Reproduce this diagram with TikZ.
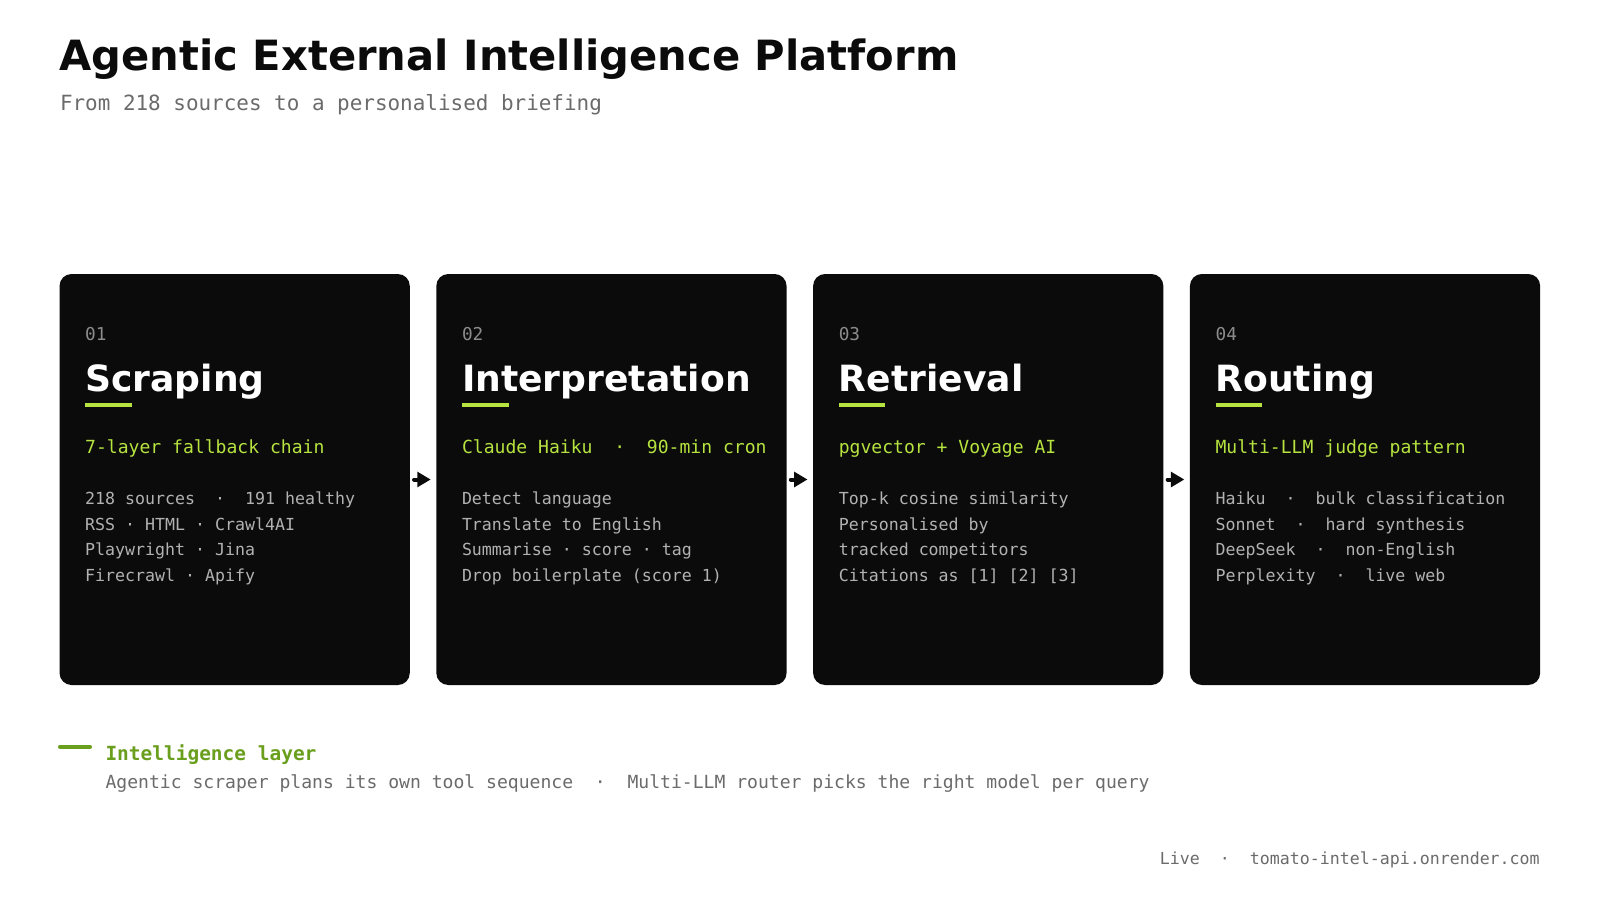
\documentclass[tikz,border=0pt]{standalone}
\usepackage{fontspec}
\setmainfont{DejaVu Sans}
\setmonofont{DejaVu Sans Mono}
\usetikzlibrary{arrows.meta}
\definecolor{cardbg}{HTML}{0B0B0B}
\definecolor{lime}{HTML}{B6E33F}
\definecolor{bodygrey}{HTML}{B2B2B2}
\definecolor{numgrey}{HTML}{8C8C8C}
\definecolor{footgreen}{HTML}{6A9F1E}
\definecolor{subgrey}{HTML}{6B6B6B}
\definecolor{ink}{HTML}{0B0B0B}
\newcommand{\fntMain}{\fontsize{31.25}{37}\selectfont\bfseries}
\newcommand{\fntSub}{\ttfamily\fontsize{15.7}{19}\selectfont}
\newcommand{\fntNum}{\ttfamily\fontsize{13.3}{16}\selectfont}
\newcommand{\fntHead}{\fontsize{27.1}{32}\selectfont\bfseries}
\newcommand{\fntTag}{\ttfamily\fontsize{13.55}{16}\selectfont}
\newcommand{\fntBody}{\ttfamily\fontsize{12.45}{15}\selectfont}
\newcommand{\fntLayer}{\ttfamily\fontsize{14.6}{17}\selectfont\bfseries}
\tikzset{
  txt/.style={anchor=base west, inner sep=0pt, outer sep=0pt},
  card/.style={fill=cardbg, draw=none, rounded corners=9pt, minimum width=262.7pt, minimum height=308.25pt, inner sep=0pt},
  numtxt/.style={txt, font=\fntNum, text=numgrey},
  headtxt/.style={txt, font=\fntHead, text=white},
  tagtxt/.style={txt, font=\fntTag, text=lime},
  bodytxt/.style={txt, font=\fntBody, text=bodygrey},
  uline/.style={draw=lime, line width=3pt},
  flow/.style={draw=ink, line width=3pt, line cap=round, -{Triangle[length=10pt,width=11pt]}},
}
\begin{document}
\begin{tikzpicture}[x=0.75pt,y=-0.75pt]
\useasboundingbox (0,0) rectangle (1600,900);
\fill[white] (0,0) rectangle (1600,900);

% header
\node[txt, font=\fntMain, text=ink] (title) at (59.5,70) {Agentic External Intelligence Platform};
\node[txt, font=\fntSub, text=subgrey] (subtitle) at (60,110) {From 218 sources to a personalised briefing};

% cards (left edges 59.5 + k*376.8, width 350.3, top 274, bottom 685)
\node[card] (c1) at (234.65,479.5) {};
\node[card] (c2) at (611.45,479.5) {};
\node[card] (c3) at (988.25,479.5) {};
\node[card] (c4) at (1365.05,479.5) {};

% card 1
\node[numtxt] (n1) at (85.2,340) {01};
\node[headtxt] (h1) at (85.2,391.7) {Scraping};
\draw[uline] (85.2,405.3) -- (131.7,405.3);
\node[tagtxt] (t1) at (85.2,453.3) {7-layer fallback chain};
\node[bodytxt] (b11) at (85.2,504.3) {218 sources~~·~~191 healthy};
\node[bodytxt] (b12) at (85.2,530.1) {RSS · HTML · Crawl4AI};
\node[bodytxt] (b13) at (85.2,555.9) {Playwright · Jina};
\node[bodytxt] (b14) at (85.2,581.7) {Firecrawl · Apify};

% card 2
\node[numtxt] (n2) at (462,340) {02};
\node[headtxt] (h2) at (462,391.7) {Interpretation};
\draw[uline] (462,405.3) -- (508.5,405.3);
\node[tagtxt] (t2) at (462,453.3) {Claude Haiku~~·~~90-min cron};
\node[bodytxt] (b21) at (462,504.3) {Detect language};
\node[bodytxt] (b22) at (462,530.1) {Translate to English};
\node[bodytxt] (b23) at (462,555.9) {Summarise · score · tag};
\node[bodytxt] (b24) at (462,581.7) {Drop boilerplate (score 1)};

% card 3
\node[numtxt] (n3) at (838.8,340) {03};
\node[headtxt] (h3) at (838.8,391.7) {Retrieval};
\draw[uline] (838.8,405.3) -- (885.3,405.3);
\node[tagtxt] (t3) at (838.8,453.3) {pgvector + Voyage AI};
\node[bodytxt] (b31) at (838.8,504.3) {Top-k cosine similarity};
\node[bodytxt] (b32) at (838.8,530.1) {Personalised by};
\node[bodytxt] (b33) at (838.8,555.9) {tracked competitors};
\node[bodytxt] (b34) at (838.8,581.7) {Citations as [1] [2] [3]};

% card 4
\node[numtxt] (n4) at (1215.6,340) {04};
\node[headtxt] (h4) at (1215.6,391.7) {Routing};
\draw[uline] (1215.6,405.3) -- (1262.1,405.3);
\node[tagtxt] (t4) at (1215.6,453.3) {Multi-LLM judge pattern};
\node[bodytxt] (b41) at (1215.6,504.3) {Haiku~~·~~bulk classification};
\node[bodytxt] (b42) at (1215.6,530.1) {Sonnet~~·~~hard synthesis};
\node[bodytxt] (b43) at (1215.6,555.9) {DeepSeek~~·~~non-English};
\node[bodytxt] (b44) at (1215.6,581.7) {Perplexity~~·~~live web};

% arrows
\draw[flow] ([xshift=3pt]c1.east) -- ([xshift=-4pt]c2.west);
\draw[flow] ([xshift=3pt]c2.east) -- ([xshift=-4pt]c3.west);
\draw[flow] ([xshift=3pt]c3.east) -- ([xshift=-4pt]c4.west);

% intelligence layer
\draw[draw=footgreen, line width=3pt, line cap=round] (60,746.7) -- (90,746.7);
\node[txt, font=\fntLayer, text=footgreen] (layer) at (105.5,760.7) {Intelligence layer};
\node[txt, font=\fntTag, text=subgrey] (layerdesc) at (105.5,788.3) {Agentic scraper plans its own tool sequence~~·~~Multi-LLM router picks the right model per query};

% footer
\node[anchor=base east, inner sep=0pt, font=\fntBody, text=subgrey] (live) at (1540,864) {Live~~·~~tomato-intel-api.onrender.com};
\end{tikzpicture}
\end{document}
